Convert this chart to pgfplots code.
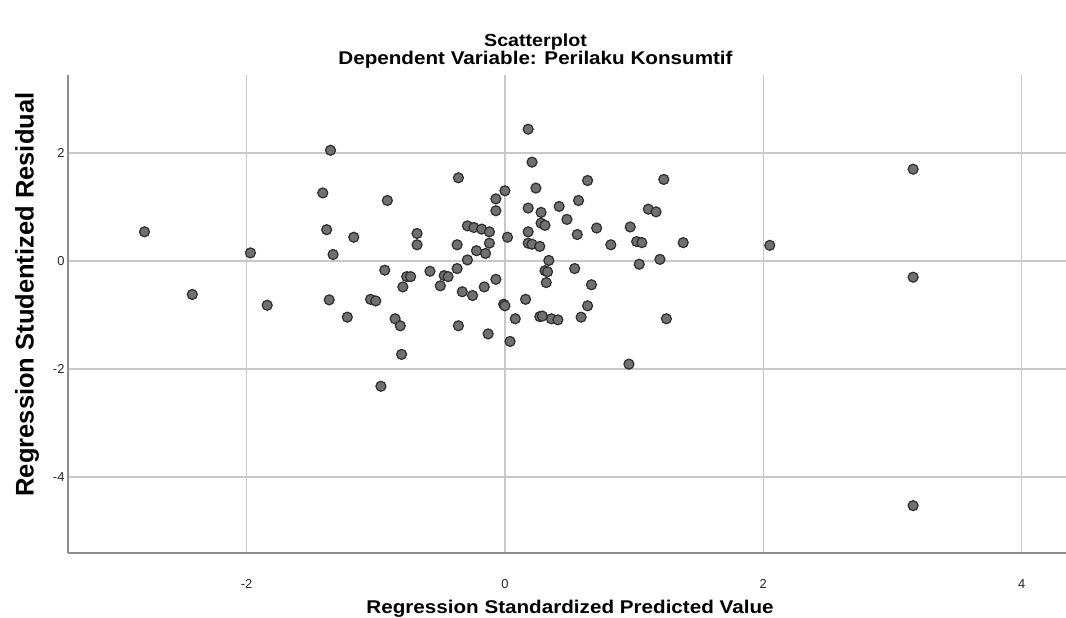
\documentclass[border=0pt]{standalone}
\usepackage{fontspec}
\setmainfont{Liberation Sans}
\newfontfamily\widefont[FakeStretch=1.12]{Liberation Sans}
\usepackage{pgfplots}
\pgfplotsset{compat=1.18}
\definecolor{mfill}{RGB}{112,112,112}
\definecolor{medge}{RGB}{45,45,45}
\definecolor{gridc}{RGB}{200,200,200}
\definecolor{axc}{RGB}{140,140,140}
\begin{document}
\begin{tikzpicture}[x=1bp,y=1bp]
\useasboundingbox (0,0) rectangle (1066,618);
\begin{axis}[
 at={(68bp,65bp)}, anchor=south west,
 scale only axis, width=998bp, height=478bp,
 xmin=-3.382, xmax=4.343, ymin=-5.407, ymax=3.444,
 axis x line=bottom, axis y line=left,
 axis line style={axc, line width=1.5bp, -},
 xtick={-2,0,2,4}, ytick={-4,-2,0,2},
 grid=major, major grid style={gridc, line width=1.2bp},
 major tick length=0pt,
 tick label style={font=\fontsize{13}{13}\selectfont, text=black!85},
 xticklabel style={yshift=-23bp},
 /pgf/number format/assume math mode=true,
]
\addplot[only marks, mark=*, mark size=5bp, mark options={fill=mfill, draw=medge, line width=1.2bp}] coordinates {
(-2.79,0.54) (-2.42,-0.62) (-1.97,0.15) (-1.84,-0.82) (-1.35,2.05)
(-1.41,1.26) (-0.91,1.12) (-1.38,0.58) (-1.17,0.44) (-0.68,0.51)
(-0.68,0.30) (-1.33,0.12) (-0.93,-0.17) (-0.76,-0.29) (-0.73,-0.29)
(-0.58,-0.19) (-0.47,-0.27) (-0.44,-0.29) (-0.79,-0.48) (-0.50,-0.46)
(-0.37,0.30) (-0.37,-0.14) (-0.36,1.54) (-1.36,-0.72) (-1.04,-0.71)
(-1.00,-0.74) (0.00,1.30) (-0.07,1.15) (-0.07,0.93) (-0.29,0.65)
(-0.24,0.62) (-0.18,0.59) (-0.12,0.54) (-0.12,0.33) (0.02,0.44)
(-0.22,0.19) (-0.15,0.14) (-0.29,0.02) (0.18,2.44) (0.21,1.83)
(0.18,0.98) (0.18,0.54) (0.18,0.33) (-0.33,-0.57) (-0.25,-0.64)
(-0.16,-0.48) (-0.07,-0.34) (-1.22,-1.04) (-0.85,-1.07) (-0.81,-1.20)
(-0.80,-1.73) (-0.96,-2.32) (-0.36,-1.20) (-0.13,-1.35) (-0.01,-0.80)
(0.00,-0.83) (0.04,-1.49) (0.16,-0.71) (0.08,-1.07) (0.24,1.35)
(0.28,0.90) (0.28,0.70) (0.31,0.66) (0.42,1.01) (0.48,0.77)
(0.57,1.12) (0.64,1.49) (0.21,0.31) (0.27,0.27) (0.56,0.49)
(0.71,0.61) (0.82,0.30) (0.97,0.63) (1.02,0.36) (1.06,0.34)
(1.11,0.96) (1.17,0.91) (1.23,1.51) (1.38,0.34) (0.34,0.01)
(0.31,-0.18) (0.33,-0.20) (0.32,-0.40) (0.54,-0.14) (0.67,-0.44)
(1.04,-0.06) (1.20,0.03) (0.27,-1.03) (0.29,-1.02) (0.36,-1.07)
(0.41,-1.09) (0.59,-1.04) (0.64,-0.83) (0.96,-1.91) (1.25,-1.07)
(2.05,0.29) (3.16,1.70) (3.16,-0.30) (3.16,-4.53)
};
\end{axis}
\node[anchor=base, inner sep=0pt, font=\widefont\bfseries\fontsize{17.6}{18}\selectfont] at (535.5,571.5) {Scatterplot};
\node[anchor=base, inner sep=0pt, font=\widefont\bfseries\fontsize{18.5}{19}\selectfont] at (535.5,553.7) {Dependent Variable: Perilaku Konsumtif};
\node[anchor=base, inner sep=0pt, font=\widefont\bfseries\fontsize{18.5}{19}\selectfont] at (570,4.5) {Regression Standardized Predicted Value};
\node[anchor=base, inner sep=0pt, rotate=90, font=\bfseries\fontsize{25.6}{26}\selectfont] at (33.5,323.5) {Regression Studentized Residual};
\end{tikzpicture}
\end{document}
